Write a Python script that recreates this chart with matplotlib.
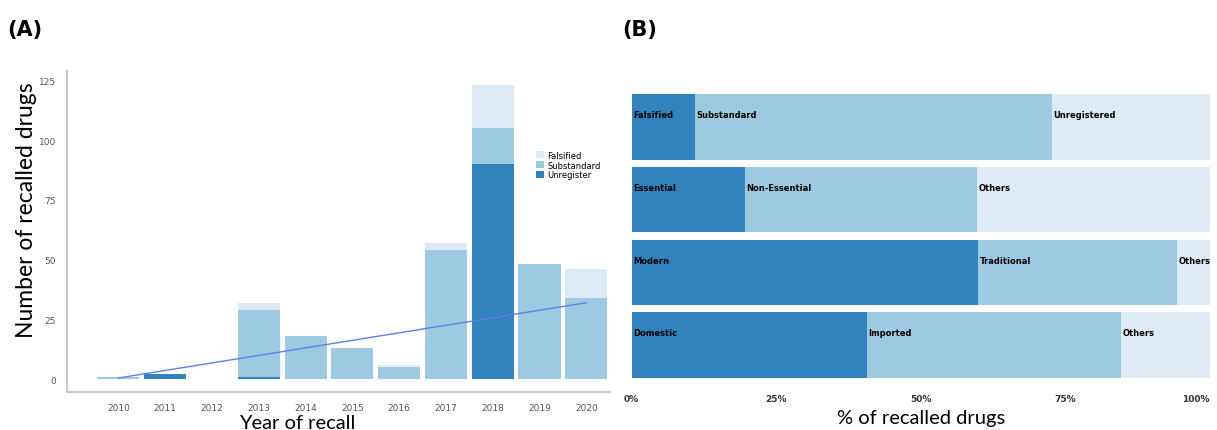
import matplotlib.pyplot as plt
import numpy as np

# panel A: recalls per year, stacked by type
years = [2010, 2011, 2012, 2013, 2014, 2015, 2016, 2017, 2018, 2019, 2020]
unregister = [0, 2, 0, 1, 0, 0, 0, 0, 90, 0, 0]
substandard = [1, 0, 0, 28, 18, 13, 5, 54, 15, 48, 34]
falsified = [0, 0, 0, 3, 0, 0, 1, 3, 18, 0, 12]
trend_years = [2010, 2020]
trend_values = [0.5, 32]

# panel B: share of recalled drugs (%)
rows = ["Type", "Essential", "Origin", "Source"]
seg_labels = [["Falsified", "Substandard", "Unregistered"],
              ["Essential", "Non-Essential", "Others"],
              ["Modern", "Traditional", "Others"],
              ["Domestic", "Imported", "Others"]]
seg_values = [[10.9, 61.8, 27.3],
              [19.6, 40.1, 40.3],
              [60.0, 34.3, 5.7],
              [40.7, 43.9, 15.4]]

dark, mid, light = "#3182bd", "#9ecae1", "#deebf7"
label_font = "Lato"

fig = plt.figure(figsize=(12.17, 4.31), dpi=100)

# ---- (A)
ax = fig.add_axes([0.055, 0.088, 0.446, 0.745])
x = np.array(years)
u = np.array(unregister)
s = np.array(substandard)
f = np.array(falsified)
ax.bar(x, u, width=0.9, color=dark, label="Unregister")
ax.bar(x, s, width=0.9, bottom=u, color=mid, label="Substandard")
ax.bar(x, f, width=0.9, bottom=u + s, color=light, label="Falsified")
ax.plot(trend_years, trend_values, color="#5b7fe6", lw=1)
ax.set_xlim(2008.9, 2020.5)
ax.set_ylim(-5.4, 129)
ax.set_xticks(years)
ax.set_yticks([0, 25, 50, 75, 100, 125])
ax.tick_params(length=0, labelsize=6.5, labelcolor="#555555", pad=8)
for side in ["top", "right"]:
    ax.spines[side].set_visible(False)
for side in ["left", "bottom"]:
    ax.spines[side].set_color("#c8c8c8")
    ax.spines[side].set_linewidth(1.5)
ax.set_ylabel("Number of recalled drugs", fontsize=16.5, family=label_font)
ax.yaxis.set_label_coords(-0.055, 0.57)
ax.set_xlabel("Year of recall", fontsize=14.5, family=label_font)
ax.xaxis.set_label_coords(0.425, -0.068)
h, l = ax.get_legend_handles_labels()
ax.legend(h[::-1], l[::-1], loc="upper left", bbox_to_anchor=(0.85, 0.775), frameon=False,
          fontsize=6, handlelength=1.0, handleheight=0.9, handletextpad=0.4, labelspacing=0.1)
fig.text(0.006, 0.93, "(A)", fontsize=15, fontweight="bold", va="center")

# ---- (B)
bx = fig.add_axes([0.519, 0.104, 0.475, 0.692])
colors = [dark, mid, light]
for i, (vals, labs) in enumerate(zip(seg_values, seg_labels)):
    left = 0
    for v, lab, c in zip(vals, labs, colors):
        bx.barh(i, v, left=left, height=0.9, color=c)
        bx.text(left + 0.3, i - 0.17, lab, fontsize=6, fontweight="bold", va="center", ha="left")
        left += v
bx.set_ylim(3.55, -0.55)
bx.set_xlim(0, 100)
bx.set_yticks([])
bx.set_xticks([0, 25, 50, 75, 100])
bx.set_xticklabels(["0%", "25%", "50%", "75%", "100%"])
bx.tick_params(length=0, labelsize=6.5, labelcolor="#333333", pad=6)
for lbl in bx.get_xticklabels():
    lbl.set_fontweight("bold")
bx.get_xticklabels()[-1].set_ha("right")
for side in bx.spines:
    bx.spines[side].set_visible(False)
bx.set_xlabel("% of recalled drugs", fontsize=14.5, family=label_font)
bx.xaxis.set_label_coords(0.5, -0.08)
fig.text(0.511, 0.93, "(B)", fontsize=15, fontweight="bold", va="center")

fig.savefig("out.png", dpi=100)
